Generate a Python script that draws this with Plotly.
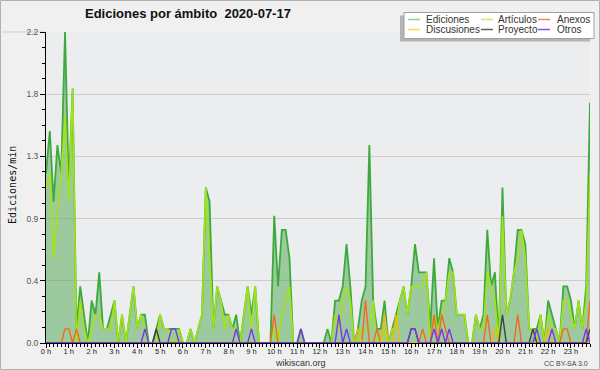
import plotly.graph_objects as go

# ---- data (10-minute buckets, editions per minute) ----
ediciones = [1.2, 1.5, 1.0, 1.4, 1.2, 2.2, 1.1, 1.8, 0.1, 0.4, 0.2, 0.0, 0.3, 0.2, 0.5, 0.1, 0.1, 0.2, 0.3, 0.0,
             0.2, 0.0, 0.2, 0.4, 0.1, 0.2, 0.2, 0.0, 0.0, 0.1, 0.2, 0.1, 0.1, 0.1, 0.1, 0.1, 0.0, 0.0, 0.1, 0.0,
             0.1, 0.2, 1.1, 1.0, 0.1, 0.4, 0.3, 0.2, 0.2, 0.1, 0.2, 0.0, 0.2, 0.4, 0.2, 0.4, 0.0, 0.0, 0.0, 0.0,
             0.9, 0.4, 0.8, 0.8, 0.6, 0.0, 0.0, 0.1, 0.0, 0.0, 0.0, 0.0, 0.0, 0.0, 0.1, 0.0, 0.3, 0.3, 0.4, 0.7,
             0.4, 0.0, 0.1, 0.3, 0.4, 1.4, 0.3, 0.1, 0.1, 0.3, 0.0, 0.1, 0.2, 0.3, 0.4, 0.2, 0.4, 0.7, 0.5, 0.5,
             0.5, 0.1, 0.6, 0.1, 0.3, 0.3, 0.6, 0.5, 0.2, 0.2, 0.2, 0.0, 0.0, 0.2, 0.1, 0.2, 0.8, 0.4, 0.5, 0.0,
             1.1, 0.2, 0.3, 0.5, 0.8, 0.8, 0.7, 0.1, 0.1, 0.1, 0.2, 0.0, 0.3, 0.2, 0.1, 0.0, 0.4, 0.4, 0.3, 0.1,
             0.3, 0.1, 0.4, 1.7]
articulos = [1.1, 1.2, 0.6, 0.9, 1.2, 1.6, 1.0, 1.8, 0.0, 0.3, 0.1, 0.0, 0.1, 0.2, 0.2, 0.1, 0.1, 0.1, 0.3, 0.0,
             0.2, 0.0, 0.2, 0.4, 0.1, 0.2, 0.1, 0.0, 0.0, 0.0, 0.2, 0.1, 0.1, 0.0, 0.0, 0.1, 0.0, 0.0, 0.1, 0.0,
             0.1, 0.2, 1.1, 0.6, 0.1, 0.4, 0.3, 0.1, 0.2, 0.1, 0.1, 0.0, 0.2, 0.4, 0.1, 0.4, 0.0, 0.0, 0.0, 0.0,
             0.1, 0.0, 0.2, 0.3, 0.4, 0.0, 0.0, 0.0, 0.0, 0.0, 0.0, 0.0, 0.0, 0.0, 0.0, 0.0, 0.2, 0.1, 0.3, 0.4,
             0.3, 0.0, 0.0, 0.1, 0.1, 0.1, 0.3, 0.0, 0.0, 0.1, 0.0, 0.1, 0.1, 0.3, 0.4, 0.2, 0.4, 0.4, 0.4, 0.4,
             0.5, 0.0, 0.2, 0.1, 0.2, 0.3, 0.5, 0.5, 0.2, 0.2, 0.2, 0.0, 0.0, 0.2, 0.1, 0.1, 0.5, 0.4, 0.3, 0.0,
             0.9, 0.2, 0.3, 0.5, 0.6, 0.8, 0.6, 0.1, 0.1, 0.0, 0.2, 0.0, 0.2, 0.1, 0.1, 0.0, 0.3, 0.3, 0.2, 0.1,
             0.3, 0.1, 0.3, 1.2]
# sparse series: {bucket index: value}
anexos_pts = {5: 0.1, 6: 0.1, 8: 0.1, 60: 0.2, 84: 0.3, 87: 0.1, 99: 0.1, 102: 0.2, 104: 0.2, 105: 0.1,
              116: 0.2, 124: 0.2, 136: 0.1, 137: 0.1, 143: 0.3}
discusiones_pts = {82: 0.1, 89: 0.2, 92: 0.2, 118: 0.1, 132: 0.1}
proyecto_pts = {29: 0.1, 96: 0.1, 97: 0.1, 120: 0.2, 128: 0.1, 143: 0.1}
otros_pts = {26: 0.1, 33: 0.1, 34: 0.1, 50: 0.1, 54: 0.1, 67: 0.1, 77: 0.2, 79: 0.1, 96: 0.1, 97: 0.1,
             102: 0.1, 104: 0.1, 106: 0.1, 129: 0.1, 133: 0.1, 142: 0.1}

N = len(ediciones)
hours = [i / 6 for i in range(N)]
hour_ticks = list(range(24))
hour_labels = [f"{h} h" for h in hour_ticks]
y_tick_values = [0, 0.44, 0.88, 1.32, 1.76, 2.2]
y_tick_labels = ["0.0", "0.4", "0.9", "1.3", "1.8", "2.2"]

def dense(pts):
    return [pts.get(i, 0.0) for i in range(N)]

anexos = dense(anexos_pts)
discusiones = dense(discusiones_pts)
proyecto = dense(proyecto_pts)
otros = dense(otros_pts)

# ---- layout geometry helpers (pixel -> paper) ----
W, H = 600, 370
L, R, T, B = 46, 10, 32, 27
PW, PH = W - L - R, H - T - B

def fx(px):
    return (px - L) / PW

def fy(py):
    return (H - B - py) / PH

FONT = "Liberation Sans, Arial, sans-serif"

fig = go.Figure()
fig.add_trace(go.Scatter(x=hours, y=ediciones, mode="lines", name="Ediciones",
                         line=dict(color="#3daa3d", width=1.8), fill="tozeroy",
                         fillcolor="rgba(80,165,80,0.5)"))
fig.add_trace(go.Scatter(x=hours, y=articulos, mode="lines", name="Artículos",
                         line=dict(color="#a2e414", width=1.6)))
fig.add_trace(go.Scatter(x=hours, y=anexos, mode="lines", name="Anexos",
                         line=dict(color="#f26a1b", width=1.4)))
fig.add_trace(go.Scatter(x=hours, y=discusiones, mode="lines", name="Discusiones",
                         line=dict(color="#f5b80a", width=1.4)))
fig.add_trace(go.Scatter(x=hours, y=proyecto, mode="lines", name="Proyecto",
                         line=dict(color="#404040", width=1.4)))
fig.add_trace(go.Scatter(x=hours, y=otros, mode="lines", name="Otros",
                         line=dict(color="#7a35f0", width=1.4)))

shapes = []
# image border
shapes.append(dict(type="rect", xref="paper", yref="paper", x0=fx(0.5), x1=fx(599.5), y0=fy(0.5), y1=fy(369.5),
                   line=dict(color="#b0b0b0", width=1), layer="below"))
# header line left of plot
shapes.append(dict(type="line", xref="paper", yref="paper", x0=fx(0), x1=fx(46), y0=fy(32), y1=fy(32),
                   line=dict(color="#cfcfcf", width=1), layer="below"))
# legend shadow + box
shapes.append(dict(type="rect", xref="paper", yref="paper", x0=fx(400), x1=fx(590), y0=fy(15.5), y1=fy(41.5),
                   line=dict(width=0), fillcolor="#b4b4b4"))
shapes.append(dict(type="rect", xref="paper", yref="paper", x0=fx(404), x1=fx(594), y0=fy(12.5), y1=fy(38.5),
                   line=dict(color="#a0a0a0", width=1), fillcolor="#ffffff"))

legend_items = [
    ("Ediciones", "#8fd48f", 408, 424, 19.5),
    ("Artículos", "#c8ef62", 481, 496, 19.5),
    ("Anexos", "#f4845a", 538, 555, 19.5),
    ("Discusiones", "#ffd84a", 408, 424, 29.5),
    ("Proyecto", "#606060", 481, 496, 29.5),
    ("Otros", "#9050f0", 538, 555, 29.5),
]
annotations = []
for label, col, lx, tx, ly in legend_items:
    shapes.append(dict(type="line", xref="paper", yref="paper", x0=fx(lx), x1=fx(lx + 12), y0=fy(ly), y1=fy(ly),
                       line=dict(color=col, width=1.5)))
    annotations.append(dict(text=label, xref="paper", yref="paper", x=fx(tx), y=fy(ly), xanchor="left",
                            yanchor="middle", showarrow=False, font=dict(family=FONT, size=10, color="#333333")))

annotations.append(dict(text="Ediciones/min", xref="paper", yref="paper", x=fx(12), y=fy(185), textangle=-90,
                        showarrow=False, xanchor="center", yanchor="middle",
                        font=dict(family="DejaVu Sans Mono, monospace", size=10, color="#111111")))
annotations.append(dict(text="wikiscan.org", xref="paper", yref="paper", x=fx(300), y=fy(363),
                        showarrow=False, xanchor="center", yanchor="middle",
                        font=dict(family=FONT, size=9, color="#333333")))
annotations.append(dict(text="CC BY-SA 3.0", xref="paper", yref="paper", x=fx(590), y=fy(363),
                        showarrow=False, xanchor="right", yanchor="middle",
                        font=dict(family=FONT, size=7, color="#444444")))
annotations.append(dict(text="<b>Ediciones por ámbito\u00a0 2020-07-17</b>", xref="paper", yref="paper",
                        x=fx(188), y=fy(14), showarrow=False, xanchor="center", yanchor="middle",
                        font=dict(family=FONT, size=13, color="#111111")))

fig.update_layout(
    width=W, height=H, margin=dict(l=L, r=R, t=T, b=B),
    paper_bgcolor="#f0f0f0", plot_bgcolor="#ebedef", showlegend=False,
    shapes=shapes, annotations=annotations,
    xaxis=dict(range=[0, hours[-1]], tickmode="array", tickvals=hour_ticks, ticktext=hour_labels,
               ticks="outside", ticklen=4, tickcolor="#000", tickwidth=1, ticklabelstandoff=-3,
               showline=True, linecolor="#000", linewidth=1, showgrid=False, zeroline=False,
               tickfont=dict(family=FONT, size=7.5, color="#222222"),
               minor=dict(tickmode="linear", tick0=0, dtick=1 / 6, ticks="outside", ticklen=3,
                          tickcolor="#000", showgrid=False)),
    yaxis=dict(range=[0, 2.2], tickmode="array", tickvals=y_tick_values, ticktext=y_tick_labels,
               ticks="outside", ticklen=5, tickcolor="#000", tickwidth=1,
               showline=True, linecolor="#000", linewidth=1, showgrid=True, gridcolor="#cccccc",
               gridwidth=1, zeroline=False,
               tickfont=dict(family=FONT, size=8.5, color="#555555"),
               minor=dict(tickmode="linear", tick0=0, dtick=0.11, ticks="outside", ticklen=3,
                          tickcolor="#000", showgrid=False)),
)

fig.write_html("out.html", config={"displayModeBar": False},
               post_script="document.body.style.margin='0';document.body.style.padding='0';")
